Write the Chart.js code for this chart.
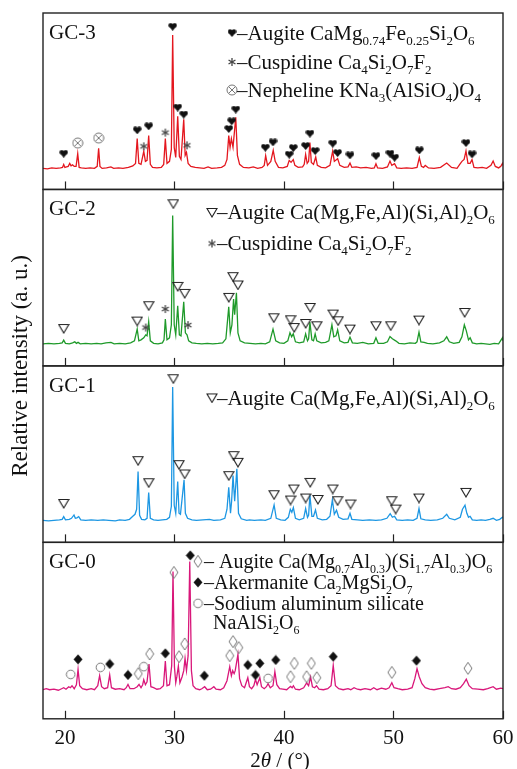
<!DOCTYPE html>
<html>
<head>
<meta charset="utf-8">
<script src="https://cdn.jsdelivr.net/npm/chart.js@4.4.1/dist/chart.umd.min.js"></script>
<style>
  body { margin: 0; background: #fff; }
  #wrap { width: 517px; height: 769px; }
</style>
</head>
<body>
<div id="wrap"><canvas id="xrd-chart" width="517" height="769"></canvas></div>
<script>
// 2theta axis
const xTickValues = [20, 30, 40, 50, 60];

// XRD patterns, [2theta, relative intensity]
const gc3Pattern = [[18.0,1],[18.4,0.5],[18.8,1.5],[19.2,1],[19.6,1.5],[19.78,2],[19.89,5],[20.0,2],[20.15,2.5],[20.3,3],[20.44,6],[20.56,3.5],[20.7,4.5],[20.85,3],[21.02,3],[21.17,15.7],[21.3,2],[21.5,1.5],[21.9,1],[22.3,1.5],[22.7,1],[22.95,3],[23.08,21],[23.2,3],[23.4,1],[23.8,1.5],[24.2,2.5],[24.45,1],[24.9,1.5],[25.3,1],[25.8,2],[26.2,3.5],[26.45,6],[26.6,30.7],[26.75,6],[26.95,5],[27.2,18],[27.35,8],[27.5,9],[27.65,33.7],[27.8,5],[28.0,2],[28.4,1.5],[28.8,2],[29.02,5],[29.17,30.7],[29.32,6],[29.55,8],[29.72,20],[29.84,134],[29.98,22],[30.12,12],[30.3,53],[30.45,13],[30.6,10],[30.85,50],[30.98,14],[31.1,17],[31.25,6],[31.5,3],[31.9,2],[32.3,1.5],[32.7,1],[33.07,2.5],[33.4,1],[33.9,1.5],[34.3,2],[34.6,4],[34.8,10],[34.96,33.7],[35.08,22],[35.2,30.7],[35.35,22],[35.6,52],[35.75,14],[35.95,5],[36.3,2],[36.8,1.5],[37.2,2.5],[37.6,1],[38.0,2],[38.2,4],[38.33,13.7],[38.5,4],[38.8,8],[39.02,19],[39.2,8],[39.5,2],[39.9,1.5],[40.3,3],[40.48,9],[40.65,7],[40.85,9.7],[41.0,4],[41.3,2],[41.7,2.5],[41.85,5],[41.98,15],[42.12,6],[42.25,8],[42.37,26.7],[42.5,7],[42.7,5],[42.9,12.3],[43.05,4],[43.4,2],[43.8,1.5],[44.2,4],[44.45,18.3],[44.6,8],[44.9,10.7],[45.1,4],[45.5,2],[45.85,2.5],[46.03,6.3],[46.2,2],[46.6,2.5],[47.0,1.5],[47.5,2],[48.0,1],[48.25,1.5],[48.4,5.7],[48.55,1.5],[49.0,1],[49.45,2.5],[49.68,8.3],[49.85,4],[50.1,5.7],[50.3,1.5],[50.7,1],[51.2,1.5],[51.7,1],[52.15,2],[52.36,11.7],[52.55,3],[52.75,2],[52.9,4],[53.2,1.5],[53.7,1],[54.3,2],[54.86,6.3],[55.3,2],[55.8,1],[56.05,5],[56.25,8],[56.45,10],[56.62,18.3],[56.8,6],[57.0,6],[57.17,9.7],[57.35,2],[57.7,1.5],[58.1,2],[58.5,1],[58.9,4],[59.1,8.3],[59.3,3],[59.6,1.5],[59.8,3],[59.95,6],[60.0,4]];

const gc2Pattern = [[18.0,1],[18.5,1.5],[19.0,1],[19.5,1.5],[19.75,2],[19.89,4.7],[20.05,1.5],[20.4,1],[20.7,2],[20.9,3],[21.05,1.5],[21.2,2.5],[21.4,1],[21.9,1.5],[22.4,1],[22.9,1.5],[23.3,1],[23.75,2],[24.2,2.5],[24.5,1],[25.0,1.5],[25.5,1],[26.0,2],[26.35,4],[26.6,15.7],[26.75,4],[26.95,5],[27.2,7],[27.38,10],[27.5,9],[27.65,23],[27.8,4],[28.1,1.5],[28.5,1],[28.9,2],[29.05,5],[29.17,25.7],[29.32,5],[29.55,7],[29.72,20],[29.84,129],[29.98,20],[30.12,10],[30.3,39],[30.45,10],[30.6,9],[30.85,43],[31.0,12],[31.15,10],[31.3,4],[31.6,2],[32.0,1.5],[32.5,1],[33.0,1.5],[33.5,1],[34.0,1.5],[34.4,2],[34.7,6],[34.96,38],[35.1,12],[35.25,20],[35.4,45.7],[35.5,30],[35.66,52],[35.8,12],[36.0,4],[36.4,2],[36.9,1.5],[37.4,1],[37.9,1.5],[38.3,1],[38.7,3],[39.0,15.7],[39.25,4],[39.6,2],[40.0,1.5],[40.35,4],[40.55,12],[40.7,8],[40.85,11],[41.05,3],[41.4,2],[41.8,3],[41.98,11],[42.15,4],[42.25,6],[42.37,22.7],[42.55,5],[42.7,4],[42.85,11],[43.0,4],[43.4,2],[43.8,2.5],[44.1,4],[44.38,20],[44.55,8],[44.75,9],[44.9,15],[45.1,4],[45.5,2],[45.85,2.5],[46.03,7.7],[46.25,2],[46.7,1.5],[47.2,2.5],[47.7,1],[48.2,1.5],[48.4,7],[48.6,1.5],[49.1,1.5],[49.45,3],[49.68,8.3],[49.9,6],[50.2,4],[50.5,1.5],[51.0,1],[51.5,2],[52.0,1.5],[52.15,3],[52.33,12.7],[52.5,3],[52.8,2.5],[53.1,1.5],[53.6,1],[54.2,2],[54.6,4],[54.86,8],[55.1,3],[55.5,1.5],[56.0,2.5],[56.25,8],[56.47,20],[56.65,14],[56.85,5],[57.0,7],[57.2,2],[57.6,1],[58.0,1.5],[58.4,1],[58.8,0.5],[59.2,1.5],[59.6,1],[59.95,7],[60.0,4]];

const gc1Pattern = [[18.0,1],[18.5,0.5],[19.0,1],[19.5,1.5],[19.75,2],[19.89,4.7],[20.05,1.5],[20.4,2],[20.6,3],[20.83,6.3],[20.95,3],[21.1,3.5],[21.26,4.7],[21.45,1.5],[21.9,1],[22.4,1.5],[23.0,1],[23.5,1.5],[24.0,1],[24.6,0.5],[25.0,1.5],[25.5,1],[25.9,2],[26.2,5],[26.4,7],[26.55,12],[26.68,49.7],[26.82,6],[27.0,2],[27.3,1.5],[27.5,3],[27.65,28.7],[27.8,3],[28.1,1.5],[28.5,1],[28.9,1.5],[29.3,2],[29.55,4],[29.72,15],[29.84,134],[29.98,16],[30.12,8],[30.3,39.7],[30.42,8],[30.55,7],[30.88,41.3],[31.0,8],[31.2,3],[31.6,1.5],[32.0,1],[32.6,1.5],[33.2,2],[33.6,1],[34.2,1.5],[34.6,3],[34.8,12],[34.96,34],[35.12,8],[35.22,20],[35.35,45.7],[35.5,20],[35.7,52.3],[35.85,8],[36.1,2.5],[36.6,1],[36.85,1.5],[37.3,1],[37.9,1.5],[38.3,1],[38.8,3],[39.1,16.3],[39.3,3],[39.7,1.5],[40.1,1],[40.4,4],[40.58,12],[40.72,9],[40.86,13.7],[41.05,3],[41.4,1.5],[41.8,3],[41.98,12.7],[42.15,4],[42.25,6],[42.37,26],[42.55,5],[42.7,5],[42.88,11.3],[43.05,3],[43.5,1.5],[43.9,2],[44.2,5],[44.42,21.3],[44.6,7],[44.8,11],[45.0,4],[45.4,2],[45.85,2.5],[46.03,8],[46.2,2],[46.7,1.5],[47.2,1],[47.8,1.5],[48.4,1],[48.9,1.5],[49.4,3],[49.7,7.7],[49.9,4],[50.1,5],[50.3,1.5],[50.8,1],[51.3,1.5],[51.8,1],[52.15,3],[52.33,12.7],[52.5,2.5],[52.9,1.5],[53.4,1],[54.0,1.5],[54.5,3],[54.86,7],[55.1,3],[55.6,1.5],[56.1,4],[56.3,12],[56.53,16],[56.7,8],[56.85,4],[57.0,5],[57.2,1.5],[57.6,1],[58.0,1.5],[58.4,1],[58.8,2],[59.1,3],[59.4,1],[59.7,2],[59.95,4],[60.0,3]];

const gc0Pattern = [[18.0,1],[18.3,2],[18.6,1],[19.0,1.5],[19.4,0.5],[19.7,2],[19.89,3],[20.1,1.5],[20.35,4],[20.5,3],[20.65,5],[20.85,2],[21.05,6],[21.2,21.3],[21.35,5],[21.6,2],[22.0,1],[22.4,2],[22.7,1],[23.0,5],[23.17,15],[23.35,4],[23.6,2],[23.9,3],[24.09,15.7],[24.25,3],[24.6,1.5],[25.0,2],[25.4,1],[25.6,3],[25.76,6.3],[25.95,2],[26.3,2],[26.6,4],[26.77,6.3],[26.95,3],[27.1,6],[27.2,11],[27.35,6],[27.5,9],[27.68,26.7],[27.85,4],[28.1,3],[28.4,1.5],[28.7,2],[29.0,5],[29.17,29.7],[29.32,5],[29.55,6],[29.75,25],[29.87,119],[30.0,24],[30.12,8],[30.22,14],[30.36,24.7],[30.5,8],[30.7,14],[30.85,20],[30.97,32.3],[31.1,20],[31.25,35],[31.4,129],[31.55,20],[31.7,5],[31.95,2],[32.3,1],[32.5,2],[32.76,4],[33.0,1],[33.3,1.5],[33.6,4],[33.8,1.5],[34.2,1],[34.5,3],[34.8,10],[35.05,24],[35.2,15],[35.32,20],[35.45,17],[35.55,20],[35.8,36.3],[35.95,12],[36.15,5],[36.4,3],[36.55,8],[36.7,13],[36.85,4],[37.05,2],[37.25,5],[37.4,11.3],[37.55,6],[37.8,13],[37.95,4],[38.2,2],[38.4,4],[38.55,7],[38.75,3],[39.0,5],[39.17,19],[39.35,6],[39.6,2],[39.9,1.5],[40.25,1],[40.45,3],[40.6,4.3],[40.75,3],[40.86,5],[41.05,1.5],[41.4,1],[41.8,3],[42.07,7.7],[42.25,5],[42.43,13.7],[42.6,4],[42.8,3],[42.97,5],[43.2,1.5],[43.6,1],[44.0,2],[44.3,5],[44.5,25.3],[44.7,5],[45.0,2],[45.4,1],[45.85,2],[46.1,1],[46.4,3],[46.7,1.5],[47.0,1],[47.4,2],[47.9,1],[48.2,3],[48.5,1],[48.9,2.5],[49.3,1.5],[49.6,3],[49.85,8],[50.05,3],[50.4,2],[50.8,1],[51.3,1.5],[51.7,3],[51.95,12],[52.15,22],[52.35,14],[52.6,7],[52.9,3],[53.3,1.5],[53.7,1],[54.2,2],[54.7,3],[55.0,4],[55.3,2],[55.7,1.5],[56.1,3],[56.4,7],[56.65,11.5],[56.9,5],[57.2,2],[57.7,1.5],[58.2,1],[58.6,2],[59.1,4],[59.4,1.5],[59.8,2.5],[60.0,2]];

// phase markers, [2theta, height of the symbol]
const gc3Augite = [[19.89,15.7],[26.6,39],[27.65,43],[29.84,142.3],[30.3,61.7],[30.85,54.7],[34.96,40.3],[35.23,48],[35.6,59.7],[38.3,21.7],[39.0,27],[40.48,14.7],[40.85,21.3],[41.98,23.3],[42.37,35.7],[42.85,18.3],[44.45,25.7],[44.9,16.3],[46.03,14],[48.4,13.3],[49.68,15.7],[50.1,11.7],[52.36,19],[56.62,26.3],[57.17,15]];
const gc3Cuspidine = [[27.2,23],[29.17,36.7],[31.15,24]];
const gc3Nepheline = [[21.17,26.3],[23.08,31.3]];

const gc2Augite = [[19.89,16.3],[26.6,23.7],[27.65,39],[29.9,140.7],[30.3,58.3],[30.94,51.3],[34.96,47.3],[35.35,68],[35.8,59.7],[39.07,27],[40.6,25],[40.94,17.3],[41.98,21.3],[42.4,37.3],[43.0,19],[44.5,30.7],[44.95,24],[46.03,15.7],[48.4,19],[49.75,19],[52.33,24.7],[56.5,32.3]];
const gc2Cuspidine = [[27.38,17.3],[29.17,35.7],[31.24,19.7]];

const gc1Augite = [[19.89,17.8],[26.68,60.5],[27.65,38.5],[29.9,142.2],[30.42,56.5],[30.94,47.2],[34.96,45.5],[35.41,65.5],[35.8,58.8],[39.1,26.5],[40.6,21.2],[40.9,32.2],[41.98,23.2],[42.4,38.8],[43.1,21.8],[44.45,32.2],[44.9,20.5],[46.08,17.2],[49.83,20.5],[50.2,12.2],[52.33,23.2],[56.62,28.8]];

const gc0Augite = [[26.7,17],[27.74,36.7],[29.95,118],[30.42,34],[30.94,46.7],[35.05,35],[35.35,49],[35.87,43],[40.6,14],[40.95,27.3],[42.07,14],[42.5,27.3],[43.0,13],[49.85,18.3],[56.8,22.3]];
const gc0Akermanite = [[21.2,31.3],[24.09,26.7],[25.76,15.7],[29.17,37.3],[31.45,135],[32.73,15],[36.7,25.7],[37.4,15.7],[37.8,27.3],[39.25,30.7],[44.5,34],[52.1,30]];
const gc0Sodium = [[20.53,16.3],[23.24,23.3],[27.2,24],[38.55,12.3]];

const panelNames = ['GC-3', 'GC-2', 'GC-1', 'GC-0'];
const panelColors = ['#e4171f', '#1f9a2a', '#1d97e3', '#d9177a'];

// legend rows: symbol, text pieces ([text, 1] = subscript)
const gc3Legend = [
    ['heart', [['–Augite CaMg'], ['0.74', 1], ['Fe'], ['0.25', 1], ['Si'], ['2', 1], ['O'], ['6', 1]]],
    ['star', [['–Cuspidine Ca'], ['4', 1], ['Si'], ['2', 1], ['O'], ['7', 1], ['F'], ['2', 1]]],
    ['otimes', [['–Nepheline KNa'], ['3', 1], ['(AlSiO'], ['4', 1], [')O'], ['4', 1]]]
];
const gc2Legend = [
    ['tri', [['–Augite Ca(Mg,Fe,Al)(Si,Al)'], ['2', 1], ['O'], ['6', 1]]],
    ['star', [['–Cuspidine Ca'], ['4', 1], ['Si'], ['2', 1], ['O'], ['7', 1], ['F'], ['2', 1]]]
];
const gc1Legend = [
    ['tri', [['–Augite Ca(Mg,Fe,Al)(Si,Al)'], ['2', 1], ['O'], ['6', 1]]]
];
const gc0Legend = [
    ['diamond', [['– Augite Ca(Mg'], ['0.7', 1], ['Al'], ['0.3', 1], [')(Si'], ['1.7', 1], ['Al'], ['0.3', 1], [')O'], ['6', 1]]],
    ['diamondFill', [['–Akermanite Ca'], ['2', 1], ['MgSi'], ['2', 1], ['O'], ['7', 1]]],
    ['circle', [['–Sodium aluminum silicate']]],
    [null, [['NaAlSi'], ['2', 1], ['O'], ['6', 1]]]
];

const serif = '"Liberation Serif", "Times New Roman", serif';

function makeIcon(w, h, draw) {
    const c = document.createElement('canvas');
    c.width = w;
    c.height = h;
    draw(c.getContext('2d'), w, h);
    return c;
}

const icons = {
    heart: makeIcon(9, 8, (g, w, h) => {
        g.fillStyle = '#111';
        g.beginPath();
        g.arc(w * 0.28, h * 0.3, w * 0.25, 0, Math.PI * 2);
        g.arc(w * 0.72, h * 0.3, w * 0.25, 0, Math.PI * 2);
        g.fill();
        g.beginPath();
        g.moveTo(w * 0.05, h * 0.42);
        g.lineTo(w * 0.95, h * 0.42);
        g.lineTo(w * 0.5, h);
        g.closePath();
        g.fill();
    }),
    star: makeIcon(10, 10, (g) => {
        g.strokeStyle = '#444';
        g.lineWidth = 1.3;
        [90, 30, 150].forEach(a => {
            const r = a * Math.PI / 180;
            g.beginPath();
            g.moveTo(5 - 4 * Math.cos(r), 5 - 4 * Math.sin(r));
            g.lineTo(5 + 4 * Math.cos(r), 5 + 4 * Math.sin(r));
            g.stroke();
        });
    }),
    otimes: makeIcon(12, 12, (g) => {
        g.strokeStyle = '#777';
        g.lineWidth = 1;
        g.beginPath();
        g.arc(6, 6, 5, 0, Math.PI * 2);
        g.stroke();
        g.beginPath();
        g.moveTo(2.8, 2.8); g.lineTo(9.2, 9.2);
        g.moveTo(9.2, 2.8); g.lineTo(2.8, 9.2);
        g.stroke();
    }),
    tri: makeIcon(12, 11, (g) => {
        g.strokeStyle = '#222';
        g.lineWidth = 1.1;
        g.beginPath();
        g.moveTo(1, 1.5); g.lineTo(11, 1.5); g.lineTo(6, 10); g.closePath();
        g.stroke();
    }),
    diamond: makeIcon(10, 14, (g) => {
        g.strokeStyle = '#777';
        g.lineWidth = 1;
        g.beginPath();
        g.moveTo(5, 1); g.lineTo(9, 7); g.lineTo(5, 13); g.lineTo(1, 7); g.closePath();
        g.stroke();
    }),
    diamondFill: makeIcon(10, 11, (g) => {
        g.fillStyle = '#111';
        g.beginPath();
        g.moveTo(5, 0.5); g.lineTo(9.5, 5.5); g.lineTo(5, 10.5); g.lineTo(0.5, 5.5); g.closePath();
        g.fill();
    }),
    circle: makeIcon(11, 11, (g) => {
        g.strokeStyle = '#777';
        g.lineWidth = 1;
        g.beginPath();
        g.arc(5.5, 5.5, 4.3, 0, Math.PI * 2);
        g.stroke();
    })
};

const toXY = arr => arr.map(p => ({ x: p[0], y: p[1] }));

function lineSet(data, axis, color) {
    return {
        data: toXY(data), yAxisID: axis, borderColor: color, borderWidth: 1.3,
        pointRadius: 0, tension: 0, fill: false, order: 2
    };
}

function markSet(data, axis, icon) {
    return {
        data: toXY(data), yAxisID: axis, showLine: false, pointStyle: icons[icon],
        pointRadius: 5, order: 1
    };
}

const datasets = [
    lineSet(gc3Pattern, 'y3', panelColors[0]),
    lineSet(gc2Pattern, 'y2', panelColors[1]),
    lineSet(gc1Pattern, 'y1', panelColors[2]),
    lineSet(gc0Pattern, 'y0', panelColors[3]),
    markSet(gc3Augite, 'y3', 'heart'),
    markSet(gc3Cuspidine, 'y3', 'star'),
    markSet(gc3Nepheline, 'y3', 'otimes'),
    markSet(gc2Augite, 'y2', 'tri'),
    markSet(gc2Cuspidine, 'y2', 'star'),
    markSet(gc1Augite, 'y1', 'tri'),
    markSet(gc0Augite, 'y0', 'diamond'),
    markSet(gc0Akermanite, 'y0', 'diamondFill'),
    markSet(gc0Sodium, 'y0', 'circle')
];

// top to bottom
const panels = [
    { axis: 'y3', legend: gc3Legend, symX: 232, textX: 237, rows: [20, 49, 77], size: 21 },
    { axis: 'y2', legend: gc2Legend, symX: 212, textX: 217, rows: [23, 54], size: 21 },
    { axis: 'y1', legend: gc1Legend, symX: 212, textX: 217, rows: [32], size: 21 },
    { axis: 'y0', legend: gc0Legend, symX: 198, textX: 204, rows: [19, 40, 61, 80], size: 20 }
];

function drawRich(ctx, x, y, parts, size) {
    parts.forEach(([txt, sub]) => {
        ctx.font = sub ? `${Math.round(size * 0.6)}px ${serif}` : `${size}px ${serif}`;
        ctx.fillText(txt, x, sub ? y + 5 : y);
        x += ctx.measureText(txt).width;
    });
}

function yScale(min, max) {
    return {
        type: 'linear', position: 'left', stack: 'xrd', stackWeight: 1, min: min, max: max,
        ticks: { display: false },
        grid: { display: false, drawTicks: false, tickLength: 0 },
        border: { display: false }
    };
}

const xrdFrame = {
    id: 'xrdFrame',
    afterDatasetsDraw(chart) {
        const { ctx, scales } = chart;
        const x = scales.x;
        ctx.save();
        ctx.strokeStyle = '#222';
        ctx.lineWidth = 1.4;
        panels.forEach(p => {
            const y = scales[p.axis];
            ctx.strokeRect(x.left, y.top, x.right - x.left, y.bottom - y.top);
            ctx.lineWidth = 1.2;
            xTickValues.forEach(v => {
                const px = Math.round(x.getPixelForValue(v)) + 0.5;
                ctx.beginPath();
                ctx.moveTo(px, y.bottom);
                ctx.lineTo(px, y.bottom - 8);
                ctx.stroke();
            });
            ctx.lineWidth = 1.4;
        });
        ctx.restore();
    },
    afterDraw(chart) {
        const { ctx, scales } = chart;
        const x = scales.x;
        ctx.save();
        ctx.fillStyle = '#111';
        ctx.textBaseline = 'alphabetic';
        panels.forEach((p, i) => {
            const y = scales[p.axis];
            ctx.font = `21px ${serif}`;
            ctx.fillText(panelNames[i], x.left + 6, y.top + 26);
            p.legend.forEach(([icon, parts], r) => {
                const cy = y.top + p.rows[r];
                if (icon) {
                    const img = icons[icon];
                    ctx.drawImage(img, p.symX - img.width / 2, cy - img.height / 2);
                    drawRich(ctx, p.textX, cy + 7, parts, p.size);
                } else {
                    drawRich(ctx, p.textX + 9, cy + 7, parts, p.size);
                }
            });
        });

        // axis titles
        ctx.font = `23px ${serif}`;
        ctx.textAlign = 'center';
        ctx.save();
        ctx.translate(20, (chart.chartArea.top + chart.chartArea.bottom) / 2);
        ctx.rotate(-Math.PI / 2);
        ctx.fillText('Relative intensity (a. u.)', 0, 7);
        ctx.restore();

        const t1 = '2', t2 = 'θ', t3 = ' / (°)';
        ctx.textAlign = 'left';
        ctx.font = `21px ${serif}`;
        const w1 = ctx.measureText(t1).width;
        const w3 = ctx.measureText(t3).width;
        ctx.font = `italic 21px ${serif}`;
        const w2 = ctx.measureText(t2).width;
        let tx = 280 - (w1 + w2 + w3) / 2;
        const ty = 767;
        ctx.font = `21px ${serif}`;
        ctx.fillText(t1, tx, ty);
        ctx.font = `italic 21px ${serif}`;
        ctx.fillText(t2, tx + w1, ty);
        ctx.font = `21px ${serif}`;
        ctx.fillText(t3, tx + w1 + w2, ty);
        ctx.restore();
    }
};

const ctx = document.getElementById('xrd-chart').getContext('2d');
new Chart(ctx, {
    type: 'line',
    data: { datasets: datasets },
    options: {
        responsive: false,
        animation: false,
        layout: { padding: { left: 43, right: 14, top: 13, bottom: 11 } },
        plugins: { legend: { display: false }, tooltip: { enabled: false } },
        scales: {
            x: {
                type: 'linear', min: 18, max: 60,
                afterBuildTicks: axis => { axis.ticks = xTickValues.map(v => ({ value: v })); },
                afterFit: axis => { axis.paddingLeft = 0; axis.paddingRight = 0; },
                ticks: { font: { family: serif, size: 21 }, color: '#111', padding: 7, maxRotation: 0 },
                grid: { display: false, drawTicks: false, tickLength: 0 },
                border: { display: false }
            },
            y0: yScale(-28, 148),
            y1: yScale(-21, 155),
            y2: yScale(-21, 155),
            y3: yScale(-20, 156)
        }
    },
    plugins: [xrdFrame]
});
</script>
</body>
</html>
